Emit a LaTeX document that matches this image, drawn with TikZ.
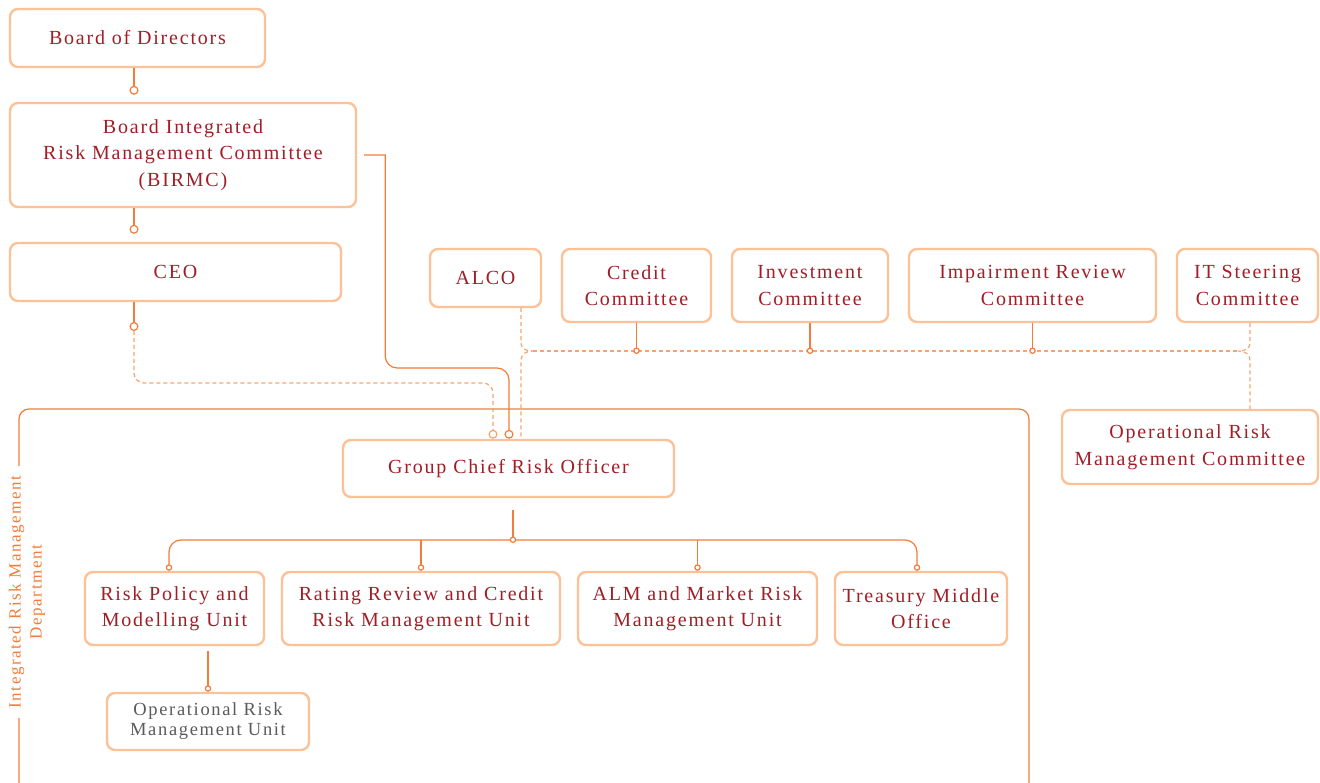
\documentclass[tikz,border=0pt]{standalone}
\usepackage{fontspec}
\setmainfont{Liberation Serif}[LetterSpace=9]
\usetikzlibrary{arrows.meta}

\definecolor{boxline}{HTML}{FDC197}
\definecolor{linkline}{HTML}{F27C3A}
\definecolor{dashline}{HTML}{F6A46E}
\definecolor{titlered}{HTML}{A11E27}
\definecolor{unitgray}{HTML}{5B5B5B}

\begin{document}
\begin{tikzpicture}[x=1pt,y=-1pt,
  box/.style={draw=boxline, line width=2.4pt, rounded corners=8pt, fill=white,
              text=titlered, align=center, inner sep=0pt,
              font=\fontsize{20}{26.5}\selectfont},
  link/.style={draw=linkline, line width=1.2pt},
  dlink/.style={draw=dashline, line width=1.2pt, dash pattern=on 4pt off 3pt},
  bigdot/.style={-{Circle[length=9pt,fill=white]}},
  smalldot/.style={-{Circle[length=6.5pt,fill=white]}}]
\useasboundingbox (0,0) rectangle (1320,783);

% board side
\node[box, minimum width=255pt, minimum height=58pt] (bod) at (137.5,38) {Board of Directors};
\node[box, minimum width=346pt, minimum height=104pt] (birmc) at (183,155) {Board Integrated\\Risk Management Committee\\(BIRMC)};
\node[box, minimum width=331pt, minimum height=58pt] (ceo) at (175.5,272) {CEO};

% management committees
\node[box, minimum width=111pt, minimum height=58pt] (alco) at (485.5,278) {ALCO};
\node[box, minimum width=149pt, minimum height=73pt] (credit) at (636.5,285.5) {Credit\\Committee};
\node[box, minimum width=156pt, minimum height=73pt] (invest) at (810,285.5) {Investment\\Committee};
\node[box, minimum width=247pt, minimum height=73pt] (impair) at (1032.5,285.5) {Impairment Review\\Committee};
\node[box, minimum width=141pt, minimum height=73pt] (itsc) at (1247.5,285.5) {IT Steering\\Committee};
\node[box, minimum width=256pt, minimum height=74pt] (ormc) at (1190,447) {Operational Risk\\Management Committee};

% department frame
\draw[link] (19,409) [rounded corners=10pt] rectangle (1029,800);
\node[rotate=90, fill=white, text=linkline, align=center, inner xsep=10pt, inner ysep=3pt,
      font=\fontsize{17}{21}\selectfont] (dept) at (27,592) {Integrated Risk Management\\Department};

\node[box, minimum width=331pt, minimum height=57pt] (gcro) at (508.5,468.5) {Group Chief Risk Officer};
\node[box, minimum width=179pt, minimum height=73pt] (rpmu) at (174.5,608.5) {Risk Policy and\\Modelling Unit};
\node[box, minimum width=278pt, minimum height=73pt] (rrcr) at (421,608.5) {Rating Review and Credit\\Risk Management Unit};
\node[box, minimum width=239pt, minimum height=73pt] (alm) at (697.5,608.5) {ALM and Market Risk\\Management Unit};
\node[box, minimum width=172pt, minimum height=73pt] (tmo) at (921,608.5) {Treasury Middle\\Office};
\node[box, minimum width=202pt, minimum height=57pt, text=unitgray,
      font=\fontsize{18.5}{20}\selectfont] (ormu) at (208,721.5) {Operational Risk\\Management Unit};

% helper coordinates
\coordinate (spine) at (134,0);
\coordinate (ceodot) at (134,331);
\coordinate (gA) at (493,0);
\coordinate (gB) at (509,0);
\coordinate (gC) at (521,0);
\coordinate (gD) at (1250,0);
\coordinate (alcojoin) at (533,351);
\coordinate (alcolow) at (521,361);
\coordinate (itjoin) at (1238,351);
\coordinate (itlow) at (1250,361);
\coordinate (hub) at (513,540);
\coordinate (uA) at (169,0);
\coordinate (uB) at (917,0);

% reporting lines
\draw[link, bigdot, shorten >=7pt] (bod.south -| spine) -- (birmc.north -| spine);
\draw[link, bigdot, shorten >=8pt] (birmc.south -| spine) -- (ceo.north -| spine);
\draw[link, bigdot] (ceo.south -| spine) -- (ceodot);
\draw[dlink, bigdot, rounded corners=10pt] (ceodot) -- ++(0,52) -| (gcro.north -| gA);
\draw[link, bigdot] ([xshift=7pt]birmc.east) -- ++(21,0) [rounded corners=12pt] -- ++(0,213) -| (gcro.north -| gB);

% committee bus
\draw[dlink] (alco.south -| gC) -- ++(0,34) .. controls +(0,7) and +(-7,0) .. (alcojoin)
  .. controls +(-7,0) and +(0,-7) .. (alcolow) -- (gcro.north -| gC);
\draw[dlink] (alcojoin) -- (itjoin);
\draw[dlink] (itsc.south -| gD) -- ++(0,19) .. controls +(0,7) and +(7,0) .. (itjoin)
  .. controls +(7,0) and +(0,-7) .. (itlow) -- (ormc.north -| gD);
\foreach \n in {credit,invest,impair}{\draw[link, smalldot, shorten >=-3pt] (\n.south) -- (\n.south |- itjoin);}

% units under the GCRO
\draw[link, rounded corners=12pt, {Circle[length=6.5pt,fill=white]}-{Circle[length=6.5pt,fill=white]}]
  (rpmu.north -| uA) |- (hub) -| (tmo.north -| uB);
\draw[link, smalldot, shorten >=-3pt] ([yshift=-12pt]gcro.south -| hub) -- (hub);
\foreach \n in {rrcr,alm}{\draw[link, smalldot] (hub -| \n.north) -- (\n.north);}
\draw[link, smalldot] ([yshift=-5pt]rpmu.south -| ormu.north) -- (ormu.north);
\end{tikzpicture}
\end{document}
